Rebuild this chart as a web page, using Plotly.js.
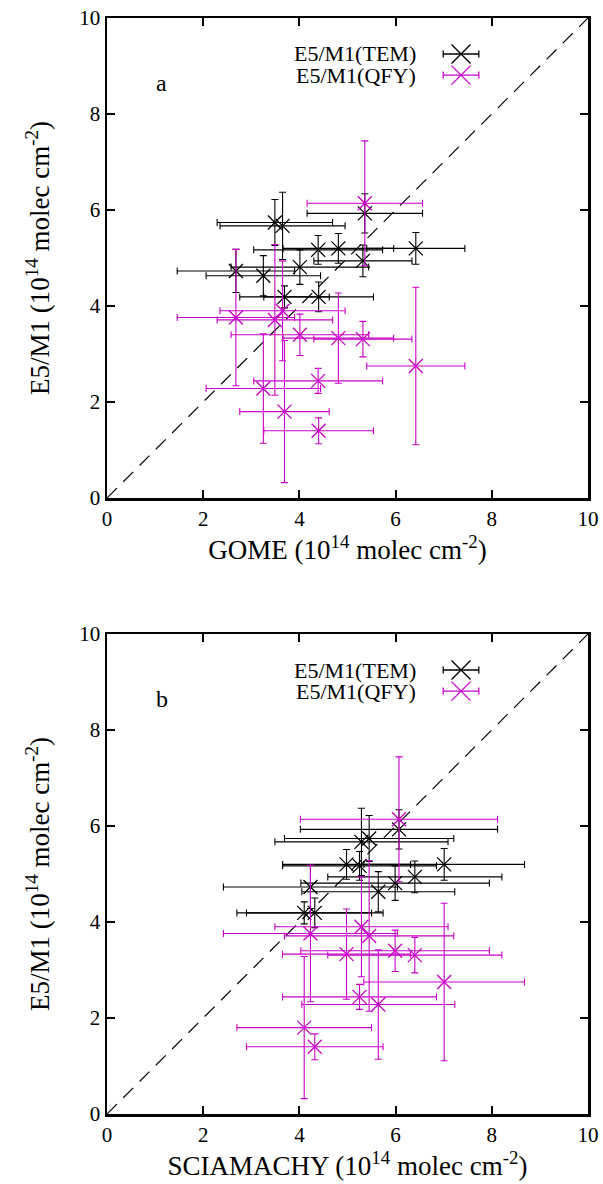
<!DOCTYPE html>
<html>
<head>
<meta charset="utf-8">
<script src="https://cdn.plot.ly/plotly-3.0.1.min.js"></script>
<style>html,body{margin:0;padding:0;background:#fff;}#chart{width:603px;height:1184px;}</style>
</head>
<body>
<div id="chart"></div>
<script>
// Sites (same order in every array)
const gomeX    = [5.36, 2.68, 3.49, 3.65, 4.01, 4.81, 5.32, 6.42, 3.25, 4.39, 3.69, 4.40];
const gomeXerr = [1.20, 1.22, 1.20, 1.30, 1.43, 1.15, 1.02, 1.02, 1.19, 1.34, 0.93, 1.14];
const sciaX    = [6.07, 4.23, 5.45, 5.29, 5.99, 4.98, 6.40, 7.01, 5.64, 5.25, 4.10, 4.32];
const sciaXerr = [2.05, 1.81, 1.76, 1.80, 1.96, 1.33, 1.81, 1.67, 1.59, 1.60, 1.40, 1.42];
const temY     = [5.93, 4.73, 5.74, 5.67, 4.81, 5.20, 4.94, 5.20, 4.63, 5.17, 4.19, 4.19];
const temYerr  = [0.41, 0.45, 0.48, 0.70, 0.36, 0.31, 0.33, 0.33, 0.42, 0.30, 0.23, 0.31];
const qfyY     = [6.14, 3.76, 3.71, 3.90, 3.40, 3.33, 3.31, 2.75, 2.28, 2.44, 1.80, 1.40];
const qfyYerr  = [1.30, 1.42, 1.57, 1.04, 0.43, 0.94, 0.37, 1.64, 1.14, 0.26, 1.48, 0.27];
const oneToOne = [0, 10];
const seriesNames = ['E5/M1(TEM)', 'E5/M1(QFY)'];
const panelLabels = ['a', 'b'];
const xTitles = ['GOME (10<sup>14</sup> molec cm<sup>-2</sup>)', 'SCIAMACHY (10<sup>14</sup> molec cm<sup>-2</sup>)'];
const yTitle = 'E5/M1 (10<sup>14</sup> molec cm<sup>-2</sup>)';
const tickVals = [0, 2, 4, 6, 8, 10];

const BLACK = '#000000';
const MAG = '#c800c8';
const FONT = "'Liberation Serif', 'Times New Roman', serif";

function pts(x, xe, y, ye, color, name, xa, ya) {
  return {
    type: 'scatter', mode: 'markers', name: name, x: x, y: y,
    xaxis: xa, yaxis: ya, showlegend: false,
    marker: {symbol: 'x-thin-open', size: 14, color: color, line: {color: color, width: 1.3}},
    error_x: {type: 'data', array: xe, symmetric: true, color: color, thickness: 1.1, width: 3.5},
    error_y: {type: 'data', array: ye, symmetric: true, color: color, thickness: 1.1, width: 3.5}
  };
}
function diag(xa, ya) {
  return {type: 'scatter', mode: 'lines', x: oneToOne, y: oneToOne, xaxis: xa, yaxis: ya,
    showlegend: false, hoverinfo: 'skip',
    line: {color: BLACK, width: 1.2, dash: '14px,9px'}};
}

const data = [
  diag('x', 'y'),
  pts(gomeX, gomeXerr, temY, temYerr, BLACK, seriesNames[0], 'x', 'y'),
  pts(gomeX, gomeXerr, qfyY, qfyYerr, MAG, seriesNames[1], 'x', 'y'),
  diag('x2', 'y2'),
  pts(sciaX, sciaXerr, temY, temYerr, BLACK, seriesNames[0], 'x2', 'y2'),
  pts(sciaX, sciaXerr, qfyY, qfyYerr, MAG, seriesNames[1], 'x2', 'y2')
];

function xax(anchor, title) {
  return {
    anchor: anchor, domain: [0, 1], range: [0, 10], tickvals: tickVals,
    ticks: 'inside', ticklen: 8, tickwidth: 2, tickcolor: BLACK,
    showline: true, linewidth: 2.5, linecolor: BLACK, mirror: 'allticks',
    showgrid: false, zeroline: false,
    tickfont: {family: FONT, size: 21, color: BLACK},
    title: {text: title, font: {family: FONT, size: 27, color: BLACK}, standoff: 9},
    fixedrange: true
  };
}
function yax(anchor, domain) {
  return {
    anchor: anchor, domain: domain, range: [0, 10], tickvals: tickVals,
    ticks: 'inside', ticklen: 8, tickwidth: 2, tickcolor: BLACK,
    showline: true, linewidth: 2.5, linecolor: BLACK, mirror: 'allticks',
    showgrid: false, zeroline: false,
    tickfont: {family: FONT, size: 21, color: BLACK},
    title: {text: yTitle, font: {family: FONT, size: 27, color: BLACK}, standoff: 22},
    fixedrange: true
  };
}

// Legend drawn gnuplot style: text then sample on the right
const annotations = [];
const shapes = [];
const legendRows = [{name: seriesNames[0], color: BLACK}, {name: seriesNames[1], color: MAG}];
[['x', 'y'], ['x2', 'y2']].forEach(function (ax, p) {
  const xr = ax[0] + ' domain', yr = ax[1] + ' domain';
  annotations.push({xref: xr, yref: yr, x: 0.098, y: 0.865,
    xanchor: 'left', yanchor: 'middle', showarrow: false, text: panelLabels[p],
    font: {family: FONT, size: 24, color: BLACK}});
  legendRows.forEach(function (r, i) {
    const yy = 0.925 - i * 0.044;
    annotations.push({xref: xr, yref: yr, x: 0.647, y: yy, xanchor: 'right', yanchor: 'middle',
      showarrow: false, text: r.name, font: {family: FONT, size: 22, color: BLACK}});
    const ln = {color: r.color, width: 1.3};
    shapes.push({type: 'line', xref: xr, yref: yr, x0: 0.699, x1: 0.773, y0: yy, y1: yy, line: ln});
    shapes.push({type: 'line', xref: xr, yref: yr, xsizemode: 'pixel', ysizemode: 'pixel',
      xanchor: 0.699, yanchor: yy, x0: 0, x1: 0, y0: -3.5, y1: 3.5, line: ln});
    shapes.push({type: 'line', xref: xr, yref: yr, xsizemode: 'pixel', ysizemode: 'pixel',
      xanchor: 0.773, yanchor: yy, x0: 0, x1: 0, y0: -3.5, y1: 3.5, line: ln});
    shapes.push({type: 'line', xref: xr, yref: yr, xsizemode: 'pixel', ysizemode: 'pixel',
      xanchor: 0.736, yanchor: yy, x0: -9.5, x1: 9.5, y0: -9.5, y1: 9.5, line: ln});
    shapes.push({type: 'line', xref: xr, yref: yr, xsizemode: 'pixel', ysizemode: 'pixel',
      xanchor: 0.736, yanchor: yy, x0: -9.5, x1: 9.5, y0: 9.5, y1: -9.5, line: ln});
  });
});

const layout = {
  width: 603, height: 1184,
  margin: {l: 107, r: 15, t: 18, b: 70},
  paper_bgcolor: '#fff', plot_bgcolor: '#fff',
  font: {family: FONT, color: BLACK},
  showlegend: false,
  xaxis: xax('y', xTitles[0]),
  yaxis: yax('x', [1 - 480 / 1096, 1]),
  xaxis2: xax('y2', xTitles[1]),
  yaxis2: yax('x2', [0, 480 / 1096]),
  annotations: annotations,
  shapes: shapes
};

Plotly.newPlot('chart', data, layout, {displayModeBar: false, staticPlot: true});
</script>
</body>
</html>
